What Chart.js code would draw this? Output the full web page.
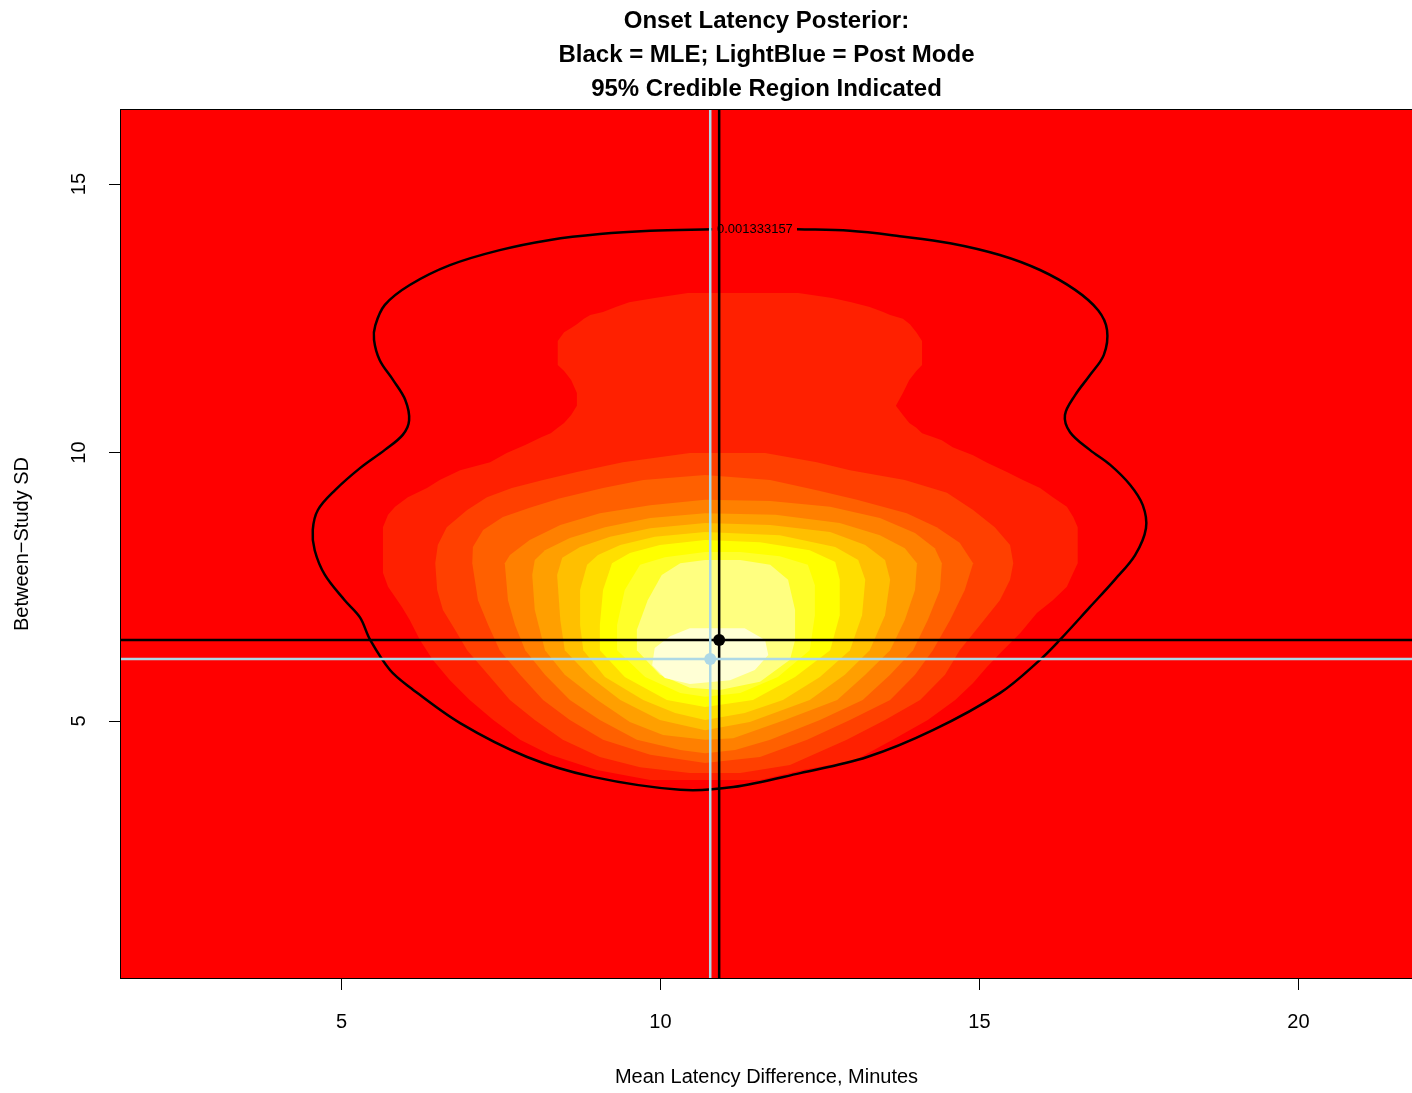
<!DOCTYPE html>
<html>
<head>
<meta charset="utf-8">
<script src="https://cdn.jsdelivr.net/npm/chart.js@4.4.1/dist/chart.umd.min.js"></script>
<style>
  html, body { margin: 0; padding: 0; background: #fff; }
</style>
</head>
<body>
<canvas id="chart" width="1412" height="1093"></canvas>
<script>
var FONT = "'Liberation Sans', Arial, Helvetica, sans-serif";

var titleLines = ["Onset Latency Posterior:", "Black = MLE; LightBlue = Post Mode", "95% Credible Region Indicated"];
var xTitle = "Mean Latency Difference, Minutes";
var yTitle = "Between\u2212Study SD";
var xTicks = [5, 10, 15, 20];
var yTicks = [5, 10, 15];
// extent of the posterior grid (= plot region)
var xRange = [1.544, 21.78];
var yRange = [0.214, 16.38];

// heat.colors(12), lowest to highest density
var heatColors = ["#FF0000", "#FF2000", "#FF4000", "#FF6000", "#FF8000", "#FF9F00",
                  "#FFBF00", "#FFDF00", "#FFFF00", "#FFFF2A", "#FFFF80", "#FFFFD5"];

// outlines of each density band (mu, tau)
var band1 = [[10.43,12.97],[9.91,12.88],[9.51,12.80],[9.30,12.71],[9.10,12.62],[8.90,12.56],[8.80,12.49],
  [8.69,12.39],[8.60,12.32],[8.49,12.24],[8.39,12.08],[8.39,11.63],[8.49,11.52],[8.60,11.35],[8.69,11.11],
  [8.69,10.87],[8.60,10.70],[8.49,10.55],[8.39,10.46],[8.28,10.36],[8.14,10.29],[7.88,10.14],[7.59,9.99],
  [7.33,9.82],[6.86,9.67],[6.54,9.49],[6.34,9.34],[6.04,9.17],[5.84,8.99],[5.73,8.84],[5.65,8.61],
  [5.65,7.76],[5.73,7.50],[5.84,7.31],[5.95,7.12],[6.07,6.88],[6.23,6.51],[6.43,6.14],[6.70,5.76],
  [7.01,5.39],[7.38,5.02],[7.80,4.65],[8.27,4.37],[9.00,4.09],[9.84,3.90],[11.56,3.90],[12.23,4.09],
  [13.05,4.27],[13.64,4.65],[14.19,5.02],[14.62,5.39],[14.90,5.71],[15.12,6.01],[15.37,6.32],[15.64,6.64],
  [15.90,7.01],[16.15,7.25],[16.37,7.50],[16.47,7.76],[16.54,7.94],[16.54,8.61],[16.47,8.80],[16.37,8.99],
  [16.15,9.17],[15.95,9.34],[15.68,9.49],[15.43,9.64],[15.12,9.81],[14.90,9.95],[14.58,10.10],[14.41,10.23],
  [14.27,10.29],[14.10,10.36],[14.01,10.46],[13.90,10.55],[13.80,10.70],[13.69,10.87],[13.80,11.11],
  [13.90,11.35],[14.01,11.52],[14.10,11.63],[14.10,12.08],[14.01,12.24],[13.91,12.39],[13.80,12.49],
  [13.60,12.56],[13.49,12.62],[13.28,12.71],[12.99,12.80],[12.69,12.88],[12.16,12.97]];
var band2 = [[10.46,9.99],[9.41,9.82],[8.69,9.64],[8.16,9.49],[7.67,9.34],[7.28,9.17],[6.97,8.93],[6.65,8.61],
  [6.51,8.28],[6.47,7.94],[6.50,7.44],[6.59,7.07],[6.78,6.70],[6.97,6.32],[7.30,5.86],[7.64,5.39],[8.03,5.02],
  [8.47,4.65],[9.05,4.33],[9.68,4.14],[10.46,4.03],[11.25,4.03],[12.03,4.18],[12.92,4.65],[13.52,5.02],
  [14.07,5.39],[14.46,5.86],[14.69,6.32],[15.01,6.79],[15.32,7.25],[15.48,7.63],[15.53,7.94],[15.48,8.28],
  [15.24,8.61],[14.90,8.93],[14.49,9.25],[13.83,9.49],[12.97,9.67],[12.45,9.82],[11.64,9.99]];
var band3 = [[10.70,9.58],[9.73,9.49],[9.10,9.34],[8.43,9.15],[7.95,8.97],[7.53,8.80],[7.22,8.56],[7.06,8.24],
  [7.05,7.94],[7.14,7.25],[7.30,6.79],[7.48,6.32],[7.80,5.86],[8.16,5.39],[8.58,5.02],[9.10,4.65],[9.84,4.37],
  [10.70,4.22],[11.56,4.33],[12.30,4.65],[12.97,5.02],[13.60,5.39],[13.99,5.86],[14.27,6.32],[14.54,6.88],
  [14.77,7.44],[14.90,7.94],[14.69,8.32],[14.33,8.61],[13.86,8.87],[13.08,9.12],[12.45,9.30],[11.72,9.49]];
var band4 = [[10.70,9.12],[9.84,9.02],[9.05,8.87],[8.43,8.65],[7.95,8.37],[7.64,8.09],[7.56,7.94],[7.61,7.25],
  [7.72,6.79],[7.88,6.32],[8.19,5.86],[8.58,5.39],[9.05,5.02],[9.63,4.65],[10.31,4.46],[10.70,4.40],
  [11.17,4.46],[11.72,4.65],[12.50,5.02],[13.17,5.39],[13.60,5.86],[13.96,6.32],[14.19,6.88],[14.38,7.44],
  [14.41,7.94],[14.30,8.22],[13.99,8.50],[13.44,8.78],[12.66,8.99],[11.72,9.10]];
var band5 = [[10.70,8.87],[9.84,8.78],[9.13,8.61],[8.58,8.41],[8.19,8.18],[8.03,8.00],[7.99,7.72],[8.03,7.07],
  [8.19,6.32],[8.50,5.86],[9.01,5.39],[9.52,4.98],[10.04,4.74],[10.70,4.65],[11.14,4.68],[11.95,5.02],
  [12.77,5.39],[13.21,5.86],[13.60,6.32],[13.83,6.88],[13.99,7.44],[14.02,7.94],[13.83,8.22],[13.44,8.46],
  [12.81,8.69],[11.80,8.84]];
var band6 = [[10.70,8.69],[9.84,8.59],[9.21,8.43],[8.74,8.24],[8.46,8.04],[8.38,7.72],[8.43,6.88],[8.50,6.32],
  [8.90,5.82],[9.37,5.39],[9.99,5.02],[10.70,4.83],[11.40,4.98],[12.34,5.39],[12.89,5.86],[13.28,6.32],
  [13.52,6.97],[13.60,7.63],[13.52,8.00],[13.21,8.28],[12.66,8.52],[11.72,8.65]];
var band7 = [[10.70,8.52],[9.91,8.43],[9.37,8.28],[9.02,8.09],[8.85,7.91],[8.74,7.44],[8.74,6.79],[8.79,6.32],
  [9.13,5.82],[9.73,5.39],[10.23,5.15],[10.70,5.02],[11.32,5.15],[11.92,5.39],[12.50,5.82],[12.97,6.32],
  [13.16,6.97],[13.21,7.63],[13.10,8.00],[12.74,8.24],[11.87,8.46]];
var band8 = [[10.70,8.37],[9.99,8.28],[9.52,8.13],[9.24,7.94],[9.10,7.44],[9.05,6.79],[9.05,6.32],[9.44,5.82],
  [10.10,5.39],[10.70,5.26],[11.45,5.39],[12.11,5.82],[12.66,6.32],[12.81,6.97],[12.81,7.63],[12.74,7.96],
  [12.34,8.18],[11.56,8.33]];
var band9 = [[10.70,8.15],[10.07,8.05],[9.68,7.91],[9.44,7.44],[9.32,6.79],[9.32,6.32],[9.76,5.82],[10.31,5.52],
  [10.70,5.45],[11.25,5.52],[11.84,5.82],[12.34,6.32],[12.42,6.97],[12.42,7.53],[12.31,7.91],[11.87,8.07],
  [11.25,8.15]];
var band10 = [[10.70,8.00],[10.31,7.94],[10.02,7.72],[9.80,7.25],[9.63,6.70],[9.63,6.32],[9.99,5.86],[10.46,5.62],
  [10.93,5.58],[11.56,5.73],[12.03,6.14],[12.11,6.51],[12.11,7.07],[12.00,7.63],[11.72,7.91],[11.25,8.00]];
var band11 = [[10.46,6.73],[11.32,6.73],[11.64,6.51],[11.69,6.23],[11.48,5.95],[11.09,5.76],[10.46,5.69],
  [10.07,5.80],[9.87,6.04],[9.91,6.36],[10.15,6.58]];

// 95% credible region contour (opens where its label sits)
var contour95 = [[12.14,14.16],[12.97,14.13],[13.75,14.03],[14.54,13.90],[15.32,13.68],[15.95,13.40],[16.50,13.03],
  [16.86,12.65],[17.00,12.28],[16.95,11.82],[16.73,11.44],[16.50,11.07],[16.34,10.70],[16.42,10.38],[16.73,10.05],
  [17.05,9.77],[17.36,9.40],[17.56,9.02],[17.61,8.59],[17.44,8.09],[17.12,7.63],[16.73,7.12],[16.26,6.51],
  [15.95,6.14],[15.32,5.52],[14.27,4.83],[13.24,4.33],[12.19,4.03],[11.14,3.77],[10.31,3.72],[8.94,3.96],
  [7.91,4.33],[6.86,4.96],[6.07,5.63],[5.76,5.95],[5.45,6.51],[5.29,6.93],[5.05,7.25],[4.74,7.72],[4.58,8.18],
  [4.55,8.56],[4.63,8.93],[4.90,9.30],[5.29,9.71],[5.68,10.05],[5.96,10.33],[6.06,10.60],[6.00,10.98],
  [5.81,11.35],[5.60,11.72],[5.51,12.10],[5.53,12.37],[5.68,12.75],[6.07,13.12],[6.70,13.49],[7.48,13.77],
  [8.27,13.96],[9.05,14.07],[9.84,14.13],[10.81,14.16]];
var contourLevel = "0.001333157";
var contourLabelAt = [11.48, 14.16];

var mle = [10.92, 6.51];
var postMode = [10.78, 6.155];

function pts(a) {
  return a.map(function(p) { return {x: p[0], y: p[1]}; });
}

// fill each band outline as a closed shape, using the points the chart positioned
var polygonFill = {
  id: 'polygonFill',
  beforeDatasetDraw: function(chart, args) {
    var ds = chart.data.datasets[args.index];
    if (!ds.polygonColor) return;
    var ctx = chart.ctx;
    ctx.save();
    ctx.beginPath();
    args.meta.data.forEach(function(p, i) {
      if (i === 0) ctx.moveTo(p.x, p.y); else ctx.lineTo(p.x, p.y);
    });
    ctx.closePath();
    ctx.fillStyle = ds.polygonColor;
    ctx.fill();
    ctx.restore();
  },
  afterDatasetDraw: function(chart, args) {
    var ds = chart.data.datasets[args.index];
    if (!ds.labelText) return;
    var ctx = chart.ctx;
    ctx.save();
    ctx.font = "13px " + FONT;
    ctx.fillStyle = "#000";
    ctx.textAlign = "center";
    ctx.textBaseline = "middle";
    ctx.fillText(ds.labelText, chart.scales.x.getPixelForValue(ds.labelAt[0]),
                 chart.scales.y.getPixelForValue(ds.labelAt[1]));
    ctx.restore();
  },
  afterDatasetsDraw: function(chart) {
    var a = chart.chartArea, ctx = chart.ctx;
    ctx.save();
    ctx.strokeStyle = "#000";
    ctx.lineWidth = 1;
    ctx.strokeRect(a.left - 0.5, a.top - 0.5, a.right - a.left + 1, a.bottom - a.top + 1);
    ctx.restore();
  }
};

var bands = [band1, band2, band3, band4, band5, band6, band7, band8, band9, band10, band11];
var datasets = [];
datasets.push({
  data: pts([[xRange[0], yRange[0]], [xRange[1], yRange[0]], [xRange[1], yRange[1]], [xRange[0], yRange[1]]]),
  polygonColor: heatColors[0], pointRadius: 0, order: 100
});
bands.forEach(function(b, i) {
  datasets.push({ data: pts(b), polygonColor: heatColors[i + 1], pointRadius: 0, order: 99 - i });
});
datasets.push({
  data: pts(contour95), showLine: true, borderColor: "#000", borderWidth: 2.5, tension: 0.35,
  pointRadius: 0, order: 20, labelText: contourLevel, labelAt: contourLabelAt
});
function lineSet(points, color, order) {
  return { data: pts(points), showLine: true, borderColor: color, borderWidth: 2.5, pointRadius: 0, order: order };
}
datasets.push(lineSet([[mle[0], yRange[0]], [mle[0], yRange[1]]], "#000", 10));
datasets.push(lineSet([[xRange[0], mle[1]], [xRange[1], mle[1]]], "#000", 9));
datasets.push(lineSet([[postMode[0], yRange[0]], [postMode[0], yRange[1]]], "#ADD8E6", 8));
datasets.push(lineSet([[xRange[0], postMode[1]], [xRange[1], postMode[1]]], "#ADD8E6", 7));
datasets.push({ data: pts([mle]), pointRadius: 6, pointBackgroundColor: "#000", pointBorderWidth: 0, borderColor: "#000", order: 2 });
datasets.push({ data: pts([postMode]), pointRadius: 6, pointBackgroundColor: "#ADD8E6", pointBorderWidth: 0, borderColor: "#ADD8E6", order: 1 });

Chart.defaults.font.family = FONT;
Chart.defaults.color = "#000";

new Chart(document.getElementById("chart").getContext("2d"), {
  type: "scatter",
  data: { datasets: datasets },
  plugins: [polygonFill],
  options: {
    responsive: false,
    animation: false,
    devicePixelRatio: 1,
    events: [],
    layout: { padding: 0, autoPadding: false },
    plugins: {
      colors: { enabled: false },
      legend: { display: false },
      tooltip: { enabled: false },
      title: {
        display: true,
        text: titleLines,
        fullSize: false,
        color: "#000",
        font: { size: 24, weight: "bold", lineHeight: 34 / 24 },
        padding: { top: 4, bottom: 4 }
      }
    },
    scales: {
      x: {
        type: "linear",
        min: xRange[0],
        max: xRange[1],
        afterBuildTicks: function(s) { s.ticks = xTicks.map(function(v) { return {value: v}; }); },
        afterFit: function(s) { s.height = 115; s.paddingLeft = 0; s.paddingRight = 0; },
        grid: { drawOnChartArea: false, drawTicks: true, tickLength: 12, color: "#000", lineWidth: 1 },
        border: { display: false },
        ticks: { font: { size: 20 }, color: "#000", padding: 20, maxRotation: 0, autoSkip: false },
        title: { display: true, text: xTitle, font: { size: 20 }, color: "#000", padding: { top: 0, bottom: 4 } }
      },
      y: {
        type: "linear",
        min: yRange[0],
        max: yRange[1],
        afterBuildTicks: function(s) { s.ticks = yTicks.map(function(v) { return {value: v}; }); },
        afterFit: function(s) { s.width = 121; s.paddingTop = 0; s.paddingBottom = 0; },
        grid: { drawOnChartArea: false, drawTicks: true, tickLength: 12, color: "#000", lineWidth: 1 },
        border: { display: false },
        ticks: { font: { size: 20 }, color: "#000", padding: 18, minRotation: 90, maxRotation: 90,
                 crossAlign: "center", autoSkip: false },
        title: { display: true, text: yTitle, font: { size: 20 }, color: "#000", padding: { top: 10, bottom: 0 } }
      }
    }
  }
});
</script>
</body>
</html>
